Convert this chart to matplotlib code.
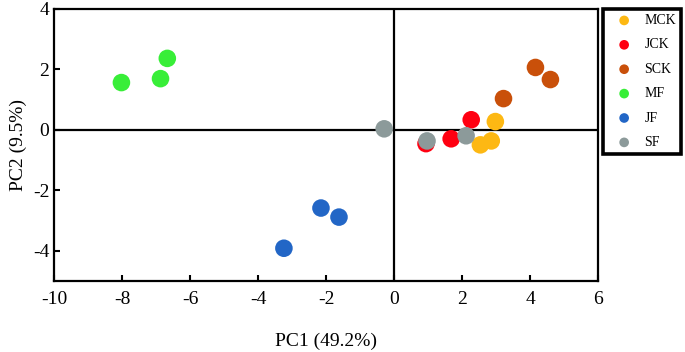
import matplotlib
matplotlib.use("Agg")
import matplotlib.pyplot as plt

plt.rcParams['font.family'] = ['Liberation Serif', 'DejaVu Serif']
plt.rcParams['axes.unicode_minus'] = False

groups = ["MCK", "JCK", "SCK", "MF", "JF", "SF"]
colors = ["#FDB813", "#FF0011", "#C9500A", "#38EE38", "#2266C6", "#8C9A9A"]

pc1 = {
    "MCK": [2.98, 2.86, 2.54],
    "JCK": [0.94, 1.68, 2.27],
    "SCK": [3.22, 4.16, 4.60],
    "MF": [-8.02, -6.87, -6.67],
    "JF": [-2.15, -1.62, -3.24],
    "SF": [-0.29, 0.97, 2.12],
}
pc2 = {
    "MCK": [0.27, -0.37, -0.50],
    "JCK": [-0.46, -0.30, 0.33],
    "SCK": [1.03, 2.06, 1.66],
    "MF": [1.56, 1.69, 2.36],
    "JF": [-2.59, -2.89, -3.92],
    "SF": [0.03, -0.37, -0.20],
}

fig = plt.figure(figsize=(6.85, 3.52), dpi=100)
ax = fig.add_axes([0.079, 0.202, 0.794, 0.773])

ax.axhline(0, color="black", lw=1.6, zorder=1)
ax.axvline(0, color="black", lw=1.6, zorder=1)

for g, c in zip(groups, colors):
    ax.scatter(pc1[g], pc2[g], s=160, color=c, label=g, zorder=3, edgecolors="none")

ax.set_xlim(-10, 6)
ax.set_ylim(-5, 4)
ax.set_xticks([-10, -8, -6, -4, -2, 0, 2, 4, 6])
ax.set_yticks([-4, -2, 0, 2, 4])
ax.tick_params(direction="in", length=4, width=1.5, labelsize=14)
ax.tick_params(axis="x", pad=7)
for sp in ax.spines.values():
    sp.set_linewidth(1.6)

ax.set_xlabel("PC1 (49.2%)", fontsize=14, labelpad=18)
ax.set_ylabel("PC2 (9.5%)", fontsize=14, labelpad=4)

leg = ax.legend(loc="upper left", bbox_to_anchor=(1.009, 1.0), borderaxespad=0,
                frameon=True, framealpha=1, fontsize=10, markerscale=0.55,
                handlelength=2.3, handletextpad=0.3,
                labelspacing=0.82, borderpad=0.38, fancybox=False)
leg.get_frame().set_edgecolor("black")
leg.get_frame().set_linewidth(2.6)

fig.savefig("out.png", dpi=100)
